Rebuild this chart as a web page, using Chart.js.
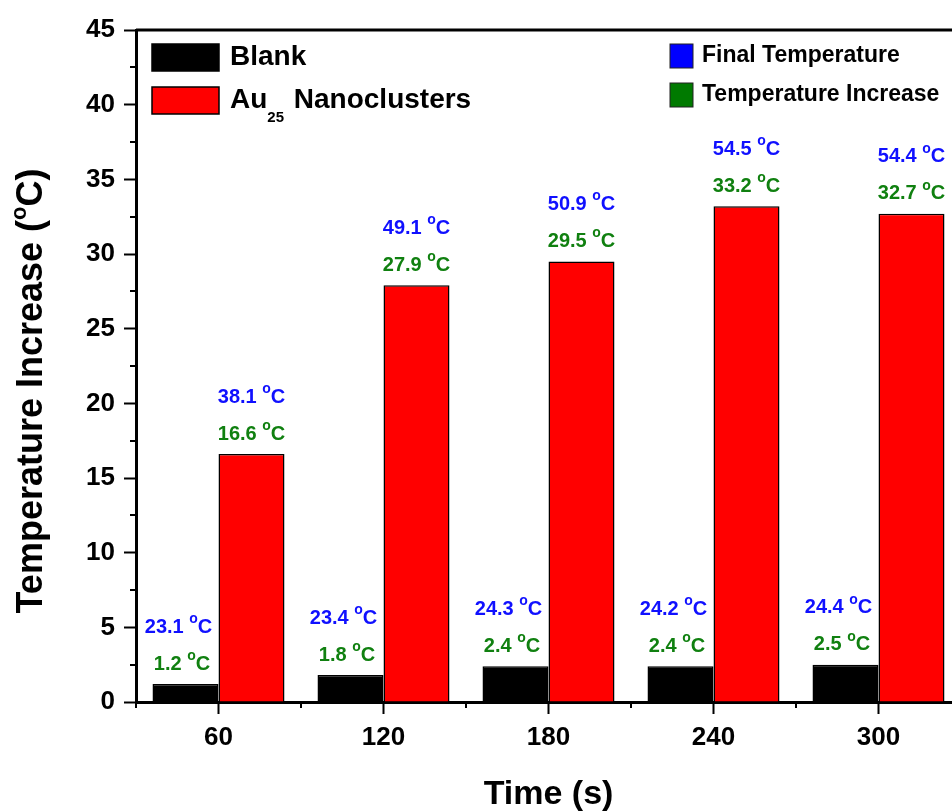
<!DOCTYPE html>
<html>
<head>
<meta charset="utf-8">
<script src="https://cdn.jsdelivr.net/npm/chart.js@4.4.1/dist/chart.umd.min.js"></script>
<style>
  html, body { margin: 0; padding: 0; overflow: hidden; background: #fff; }
  canvas { display: block; }
</style>
</head>
<body>
<canvas id="tempChart" width="966" height="812"></canvas>
<script>
const times = ['60', '120', '180', '240', '300'];
const blankIncrease = [1.2, 1.8, 2.4, 2.4, 2.5];
const auIncrease = [16.6, 27.9, 29.5, 33.2, 32.7];
const blankFinal = [23.1, 23.4, 24.3, 24.2, 24.4];
const auFinal = [38.1, 49.1, 50.9, 54.5, 54.4];
const yMin = 0, yMax = 45, yStep = 5;

const FONT = '"Liberation Sans", Arial, sans-serif';
const BLUE = '#1010ff';
const GREEN = '#108010';

// value + superscript o + C, centred on cx
function tempText(ctx, value, cx, cy, color) {
  const main = value.toFixed(1) + ' ';
  ctx.save();
  ctx.fillStyle = color;
  ctx.textBaseline = 'middle';
  ctx.textAlign = 'left';
  ctx.font = 'bold 20px ' + FONT;
  const w1 = ctx.measureText(main).width;
  const wc = ctx.measureText('C').width;
  ctx.font = 'bold 14px ' + FONT;
  const wo = ctx.measureText('o').width;
  let x = cx - (w1 + wo + wc) / 2;
  ctx.font = 'bold 20px ' + FONT;
  ctx.fillText(main, x, cy);
  x += w1;
  ctx.font = 'bold 14px ' + FONT;
  ctx.fillText('o', x, cy - 8);
  x += wo;
  ctx.font = 'bold 20px ' + FONT;
  ctx.fillText('C', x, cy);
  ctx.restore();
}

const extras = {
  id: 'extras',
  afterDraw(chart) {
    const ctx = chart.ctx;
    const ca = chart.chartArea;
    const y = chart.scales.y;
    const x = chart.scales.x;
    ctx.save();
    ctx.strokeStyle = '#000';
    // frame top + right
    ctx.lineWidth = 3;
    ctx.beginPath();
    ctx.moveTo(ca.left, ca.top);
    ctx.lineTo(ca.right, ca.top);
    ctx.lineTo(ca.right, ca.bottom);
    ctx.stroke();
    // minor ticks
    ctx.lineWidth = 2;
    ctx.beginPath();
    for (let v = yMin + yStep / 2; v < yMax; v += yStep) {
      const py = Math.round(y.getPixelForValue(v));
      ctx.moveTo(ca.left - 6, py);
      ctx.lineTo(ca.left, py);
    }
    const half = (x.getPixelForValue(1) - x.getPixelForValue(0)) / 2;
    for (let i = 0; i <= times.length; i++) {
      const px = Math.round(x.getPixelForValue(0) - half + i * 2 * half);
      ctx.moveTo(px, ca.bottom);
      ctx.lineTo(px, ca.bottom + 6);
    }
    ctx.stroke();
    ctx.restore();

    // y axis title with superscript o
    ctx.save();
    ctx.translate(32, (ca.top + ca.bottom) / 2 + 25);
    ctx.rotate(-Math.PI / 2);
    ctx.fillStyle = '#000';
    ctx.textBaseline = 'middle';
    ctx.textAlign = 'left';
    const t1 = 'Temperature Increase (', t2 = 'o', t3 = 'C)';
    ctx.font = 'bold 36px ' + FONT;
    const a = ctx.measureText(t1).width, c = ctx.measureText(t3).width;
    ctx.font = 'bold 22px ' + FONT;
    const b = ctx.measureText(t2).width;
    let tx0 = -(a + b + c) / 2;
    ctx.font = 'bold 36px ' + FONT;
    ctx.fillText(t1, tx0, 0);
    ctx.font = 'bold 22px ' + FONT;
    ctx.fillText(t2, tx0 + a, -12);
    ctx.font = 'bold 36px ' + FONT;
    ctx.fillText(t3, tx0 + a + b, 0);
    ctx.restore();

    // value labels above bars
    const finals = [blankFinal, auFinal];
    const incs = [blankIncrease, auIncrease];
    const shift = [-7, 0];
    chart.data.datasets.forEach((ds, di) => {
      chart.getDatasetMeta(di).data.forEach((bar, i) => {
        tempText(ctx, incs[di][i], bar.x + shift[di] / 2, bar.y - 20, GREEN);
        tempText(ctx, finals[di][i], bar.x + shift[di], bar.y - 57, BLUE);
      });
    });

    // legend 1 (series)
    ctx.save();
    const lx = ca.left + 16, ly = ca.top + 14;
    ctx.fillStyle = '#000';
    ctx.fillRect(lx, ly, 67, 27);
    ctx.fillStyle = '#ff0000';
    ctx.fillRect(lx, ly + 43, 67, 27);
    ctx.lineWidth = 1.5;
    ctx.strokeStyle = '#000';
    ctx.strokeRect(lx, ly, 67, 27);
    ctx.strokeRect(lx, ly + 43, 67, 27);
    ctx.fillStyle = '#000';
    ctx.textBaseline = 'middle';
    ctx.textAlign = 'left';
    ctx.font = 'bold 28px ' + FONT;
    ctx.fillText(chart.data.datasets[0].label, lx + 78, ly + 13);
    let tx = lx + 78;
    ctx.fillText('Au', tx, ly + 56);
    tx += ctx.measureText('Au').width;
    ctx.font = 'bold 15px ' + FONT;
    ctx.fillText('25', tx, ly + 74);
    tx += ctx.measureText('25').width + 2;
    ctx.font = 'bold 28px ' + FONT;
    ctx.fillText(' Nanoclusters', tx, ly + 56);

    // legend 2 (label colours)
    const rx = ca.left + 534, ry = ca.top + 14;
    ctx.fillStyle = '#0000ff';
    ctx.fillRect(rx, ry, 23, 24);
    ctx.fillStyle = '#007a00';
    ctx.fillRect(rx, ry + 39, 23, 24);
    ctx.strokeStyle = '#222';
    ctx.lineWidth = 1;
    ctx.strokeRect(rx, ry, 23, 24);
    ctx.strokeRect(rx, ry + 39, 23, 24);
    ctx.fillStyle = '#000';
    ctx.font = 'bold 23px ' + FONT;
    ctx.fillText('Final Temperature', rx + 32, ry + 12);
    ctx.fillText('Temperature Increase', rx + 32, ry + 51);
    ctx.restore();
  }
};

new Chart(document.getElementById('tempChart'), {
  type: 'bar',
  data: {
    labels: times,
    datasets: [
      { label: 'Blank', data: blankIncrease, backgroundColor: '#000', borderColor: '#000', borderWidth: 1.5,
        categoryPercentage: 0.8, barPercentage: 1.0 },
      { label: 'Au25 Nanoclusters', data: auIncrease, backgroundColor: '#ff0000', borderColor: '#000', borderWidth: 1.5,
        categoryPercentage: 0.8, barPercentage: 1.0 },
    ],
  },
  options: {
    responsive: false, animation: false,
    layout: { padding: { top: 30, left: 0, right: 5, bottom: 0 } },
    plugins: { legend: { display: false }, tooltip: { enabled: false } },
    scales: {
      x: {
        grid: { display: true, drawOnChartArea: false, offset: false, tickLength: 12, tickWidth: 2, tickColor: '#000' },
        border: { display: true, width: 3, color: '#000' },
        ticks: { color: '#000', padding: 8, font: { family: FONT, size: 26, weight: 'bold' } },
        title: { display: true, text: 'Time (s)', color: '#000', padding: { top: 0, bottom: -3 },
          font: { family: FONT, size: 34, weight: 'bold' } },
        afterFit(scale) { scale.height = 110; },
      },
      y: {
        min: yMin, max: yMax,
        grid: { display: true, drawOnChartArea: false, tickLength: 12, tickWidth: 2, tickColor: '#000' },
        border: { display: true, width: 3, color: '#000' },
        ticks: { stepSize: yStep, color: '#000', padding: 9, font: { family: FONT, size: 26, weight: 'bold' } },
        title: { display: false },
        afterFit(scale) { scale.width = 136; },
      },
    },
  },
  plugins: [extras],
});
</script>
</body>
</html>
